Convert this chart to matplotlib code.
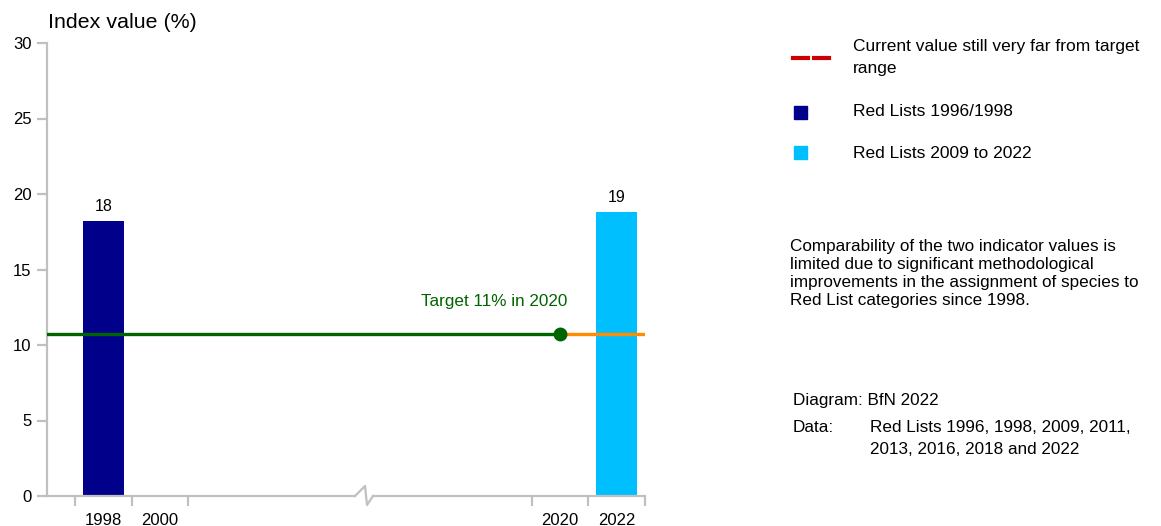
import matplotlib.pyplot as plt
from matplotlib.lines import Line2D
from matplotlib.patches import Rectangle

plt.rcParams['font.family'] = ['Liberation Sans', 'DejaVu Sans']

# indicator values (%)
years = ['1998', '2000', '2020', '2022']
xpos = [1.0, 2.0, 9.07, 10.07]          # slot centres on the broken axis
bar_years = ['1998', '2022']
bar_values = [18.2, 18.8]
bar_colors = ['#00008B', '#00BFFF']
target_value = 10.7
target_year = '2020'

W, H = 1161, 526
fig = plt.figure(figsize=(W / 100, H / 100), dpi=100)

def fx(px):
    return px / W

def fy(py):
    return 1 - py / H

ax = fig.add_axes([fx(47), fy(496), fx(645) - fx(47), fy(43) - fy(496)])
grey = '#C0C0C0'

pos = dict(zip(years, xpos))
for yr, v, c in zip(bar_years, bar_values, bar_colors):
    ax.bar(pos[yr], v, width=0.72, color=c, zorder=2)
    ax.text(pos[yr], v + 0.45, f'{v:.0f}', ha='center', va='bottom', fontsize=11.5)

xmax = 10.57
tx = pos[target_year]
ax.plot([0, tx], [target_value, target_value], color='#006400', lw=2.4, zorder=3)
ax.plot([tx, xmax], [target_value, target_value], color='#FF8C00', lw=2.4, zorder=3)
ax.plot([tx], [target_value], 'o', color='#006400', ms=9, zorder=4)
ax.text(tx + 0.13, target_value + 2.2, 'Target 11% in 2020', color='#006400',
        ha='right', va='center', fontsize=12.3)

ax.set_xlim(0, xmax)
ax.set_ylim(0, 30)
ax.set_yticks(range(0, 31, 5))

# slot boundaries as ticks, year labels at slot centres
bounds = [0.5, 1.5, 2.5, 8.57, 9.57, xmax]
ax.set_xticks(bounds)
ax.set_xticklabels([])
ax.set_xticks(xpos, minor=True)
ax.set_xticklabels(years, minor=True)
ax.tick_params(axis='x', which='major', direction='out', length=7, width=1.6, color=grey)
ax.tick_params(axis='x', which='minor', length=0, pad=12, labelsize=12)
ax.tick_params(axis='y', direction='out', length=7, width=1.6, color=grey, pad=4, labelsize=12)

for s in ['top', 'right', 'bottom']:
    ax.spines[s].set_visible(False)
ax.spines['left'].set_color(grey)
ax.spines['left'].set_linewidth(1.6)

# bottom axis line with a break mark
aw, ah = 598.0, 453.0
bx = 364 - 47
seg_kw = dict(color=grey, lw=1.6, transform=ax.transAxes, clip_on=False, zorder=5)
ax.plot([0, (bx - 9) / aw], [0, 0], **seg_kw)
ax.plot([(bx - 9) / aw, (bx + 1) / aw, (bx + 3) / aw, (bx + 9) / aw],
        [0, 10 / ah, -9 / ah, 0], **seg_kw)
ax.plot([(bx + 9) / aw, 1], [0, 0], **seg_kw)

fig.text(fx(48), fy(23), 'Index value (%)', fontsize=15.4, va='center', ha='left')

# legend
fig.add_artist(Line2D([fx(793), fx(808)], [fy(58), fy(58)], color='#CC0000', lw=3))
fig.add_artist(Line2D([fx(814), fx(829)], [fy(58), fy(58)], color='#CC0000', lw=3))
fig.text(fx(853), fy(47), 'Current value still very far from target', fontsize=12.5, va='center')
fig.text(fx(853), fy(68), 'range', fontsize=12.5, va='center')
fig.add_artist(Rectangle((fx(794), fy(119)), fx(13), 13 / H, color='#00008B'))
fig.text(fx(853), fy(112), 'Red Lists 1996/1998', fontsize=12.5, va='center')
fig.add_artist(Rectangle((fx(794), fy(159)), fx(13), 13 / H, color='#00BFFF'))
fig.text(fx(853), fy(153), 'Red Lists 2009 to 2022', fontsize=12.5, va='center')

note = ['Comparability of the two indicator values is',
        'limited due to significant methodological',
        'improvements in the assignment of species to',
        'Red List categories since 1998.']
for i, line in enumerate(note):
    fig.text(fx(790), fy(246 + 18 * i), line, fontsize=12.3, va='center')

fig.text(fx(793), fy(400), 'Diagram: BfN 2022', fontsize=12.3, va='center')
fig.text(fx(793), fy(428), 'Data:', fontsize=12.3, va='center')
fig.text(fx(870), fy(428), 'Red Lists 1996, 1998, 2009, 2011,', fontsize=12.3, va='center')
fig.text(fx(870), fy(449), '2013, 2016, 2018 and 2022', fontsize=12.3, va='center')

fig.savefig('out.png', dpi=100)
